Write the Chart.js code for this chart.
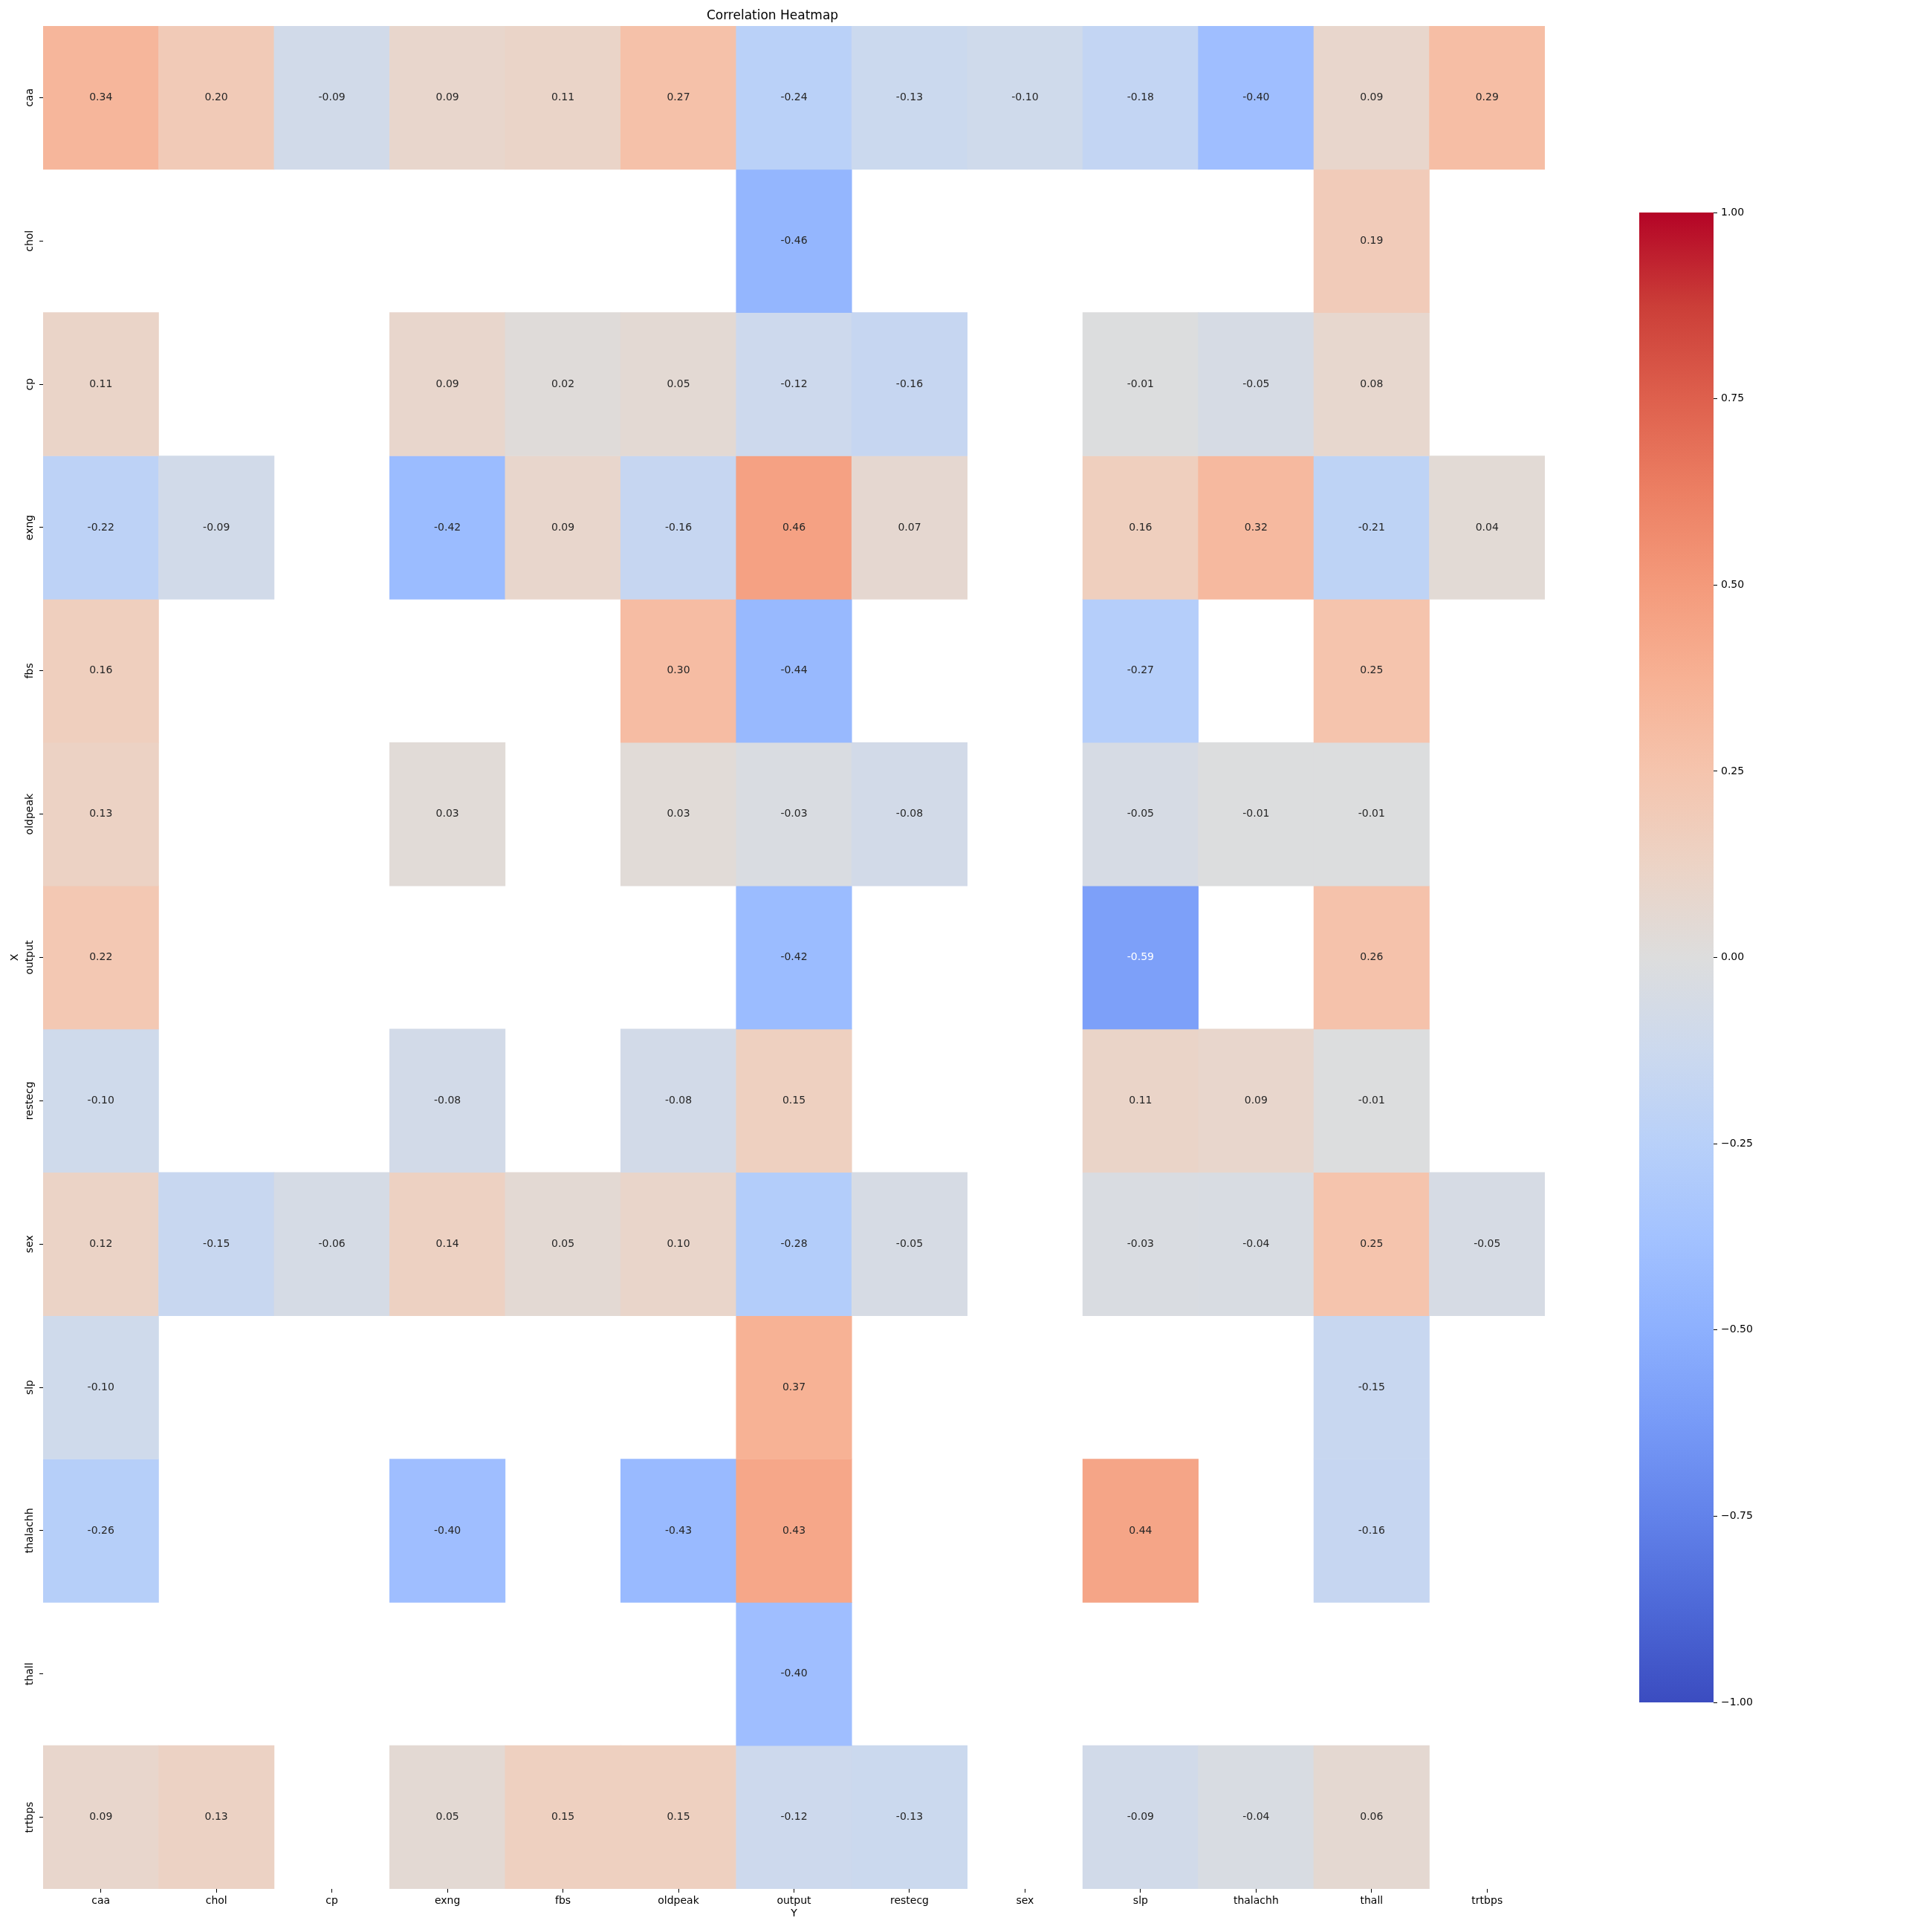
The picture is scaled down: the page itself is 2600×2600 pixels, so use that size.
<!DOCTYPE html>
<html>
<head>
<meta charset="utf-8">
<script src="https://cdn.jsdelivr.net/npm/chart.js@4.4.1/dist/chart.umd.min.js"></script>
<style>
  body { margin: 0; background: #fff; }
  #wrap { position: relative; width: 2600px; height: 2600px; background: #fff; }
  #heat { position: absolute; left: 0; top: 0; }
  #cbar { position: absolute; left: 2150px; top: 0; }
</style>
</head>
<body>
<div id="wrap">
  <canvas id="heat" width="2136" height="2600"></canvas>
  <canvas id="cbar" width="450" height="2600"></canvas>
</div>
<script>
// rows (X) and columns (Y) of the heatmap
const rowLabels = ["caa", "chol", "cp", "exng", "fbs", "oldpeak", "output", "restecg", "sex", "slp", "thalachh", "thall", "trtbps"];
const colLabels = ["caa", "chol", "cp", "exng", "fbs", "oldpeak", "output", "restecg", "sex", "slp", "thalachh", "thall", "trtbps"];

// one array per row, in column order; null = empty cell
const caaRow      = [0.34, 0.20, -0.09, 0.09, 0.11, 0.27, -0.24, -0.13, -0.10, -0.18, -0.40, 0.09, 0.29];
const cholRow     = [null, null, null, null, null, null, -0.46, null, null, null, null, 0.19, null];
const cpRow       = [0.11, null, null, 0.09, 0.02, 0.05, -0.12, -0.16, null, -0.01, -0.05, 0.08, null];
const exngRow     = [-0.22, -0.09, null, -0.42, 0.09, -0.16, 0.46, 0.07, null, 0.16, 0.32, -0.21, 0.04];
const fbsRow      = [0.16, null, null, null, null, 0.30, -0.44, null, null, -0.27, null, 0.25, null];
const oldpeakRow  = [0.13, null, null, 0.03, null, 0.03, -0.03, -0.08, null, -0.05, -0.01, -0.01, null];
const outputRow   = [0.22, null, null, null, null, null, -0.42, null, null, -0.59, null, 0.26, null];
const restecgRow  = [-0.10, null, null, -0.08, null, -0.08, 0.15, null, null, 0.11, 0.09, -0.01, null];
const sexRow      = [0.12, -0.15, -0.06, 0.14, 0.05, 0.10, -0.28, -0.05, null, -0.03, -0.04, 0.25, -0.05];
const slpRow      = [-0.10, null, null, null, null, null, 0.37, null, null, null, null, -0.15, null];
const thalachhRow = [-0.26, null, null, -0.40, null, -0.43, 0.43, null, null, 0.44, null, -0.16, null];
const thallRow    = [null, null, null, null, null, null, -0.40, null, null, null, null, null, null];
const trtbpsRow   = [0.09, 0.13, null, 0.05, 0.15, 0.15, -0.12, -0.13, null, -0.09, -0.04, 0.06, null];

const rowValues = [caaRow, cholRow, cpRow, exngRow, fbsRow, oldpeakRow, outputRow,
  restecgRow, sexRow, slpRow, thalachhRow, thallRow, trtbpsRow];

const vmin = -1, vmax = 1;
const cbarTicks = [-1, -0.75, -0.5, -0.25, 0, 0.25, 0.5, 0.75, 1];

// coolwarm colormap stops
const coolwarmStops = [
  [59, 76, 192], [77, 104, 215], [98, 130, 234], [119, 154, 247], [141, 176, 254],
  [163, 194, 255], [184, 208, 249], [204, 217, 238], [221, 221, 221], [236, 211, 197],
  [245, 196, 173], [247, 177, 148], [244, 154, 123], [236, 127, 99], [222, 96, 77],
  [203, 62, 56], [180, 4, 38]
];

function coolwarmRGB(v) {
  let t = (v - vmin) / (vmax - vmin);
  t = Math.max(0, Math.min(1, t)) * (coolwarmStops.length - 1);
  const i = Math.min(Math.floor(t), coolwarmStops.length - 2);
  const f = t - i;
  const a = coolwarmStops[i], b = coolwarmStops[i + 1];
  return a.map((c, k) => Math.round(c + (b[k] - c) * f));
}

function coolwarm(v) {
  const c = coolwarmRGB(v);
  return `rgb(${c[0]},${c[1]},${c[2]})`;
}

// seaborn picks dark or white annotation text from the cell luminance
function textColor(v) {
  const lin = coolwarmRGB(v).map(c => {
    c = c / 255;
    return c <= 0.03928 ? c / 12.92 : Math.pow((c + 0.055) / 1.055, 2.4);
  });
  const lum = 0.2126 * lin[0] + 0.7152 * lin[1] + 0.0722 * lin[2];
  return lum > 0.408 ? "#262626" : "#ffffff";
}

Chart.defaults.font.family = '"DejaVu Sans", sans-serif';
Chart.defaults.color = "#000";

// Values written in each cell
const annotate = {
  id: "annotate",
  afterDatasetsDraw(chart) {
    const ctx = chart.ctx;
    ctx.save();
    ctx.font = '14px "DejaVu Sans", sans-serif';
    ctx.textAlign = "center";
    ctx.textBaseline = "middle";
    chart.data.datasets.forEach((ds, i) => {
      chart.getDatasetMeta(i).data.forEach((bar, j) => {
        const v = ds.values[j];
        if (v === null) return;
        const p = bar.getCenterPoint();
        ctx.fillStyle = textColor(v);
        ctx.fillText(v.toFixed(2), p.x, p.y);
      });
    });
    ctx.restore();
  }
};

// Row names drawn vertically next to the y ticks
const rowNames = {
  id: "rowNames",
  afterDraw(chart) {
    const s = chart.scales.y;
    const ctx = chart.ctx;
    ctx.save();
    ctx.font = '14px "DejaVu Sans", sans-serif';
    ctx.fillStyle = "#000";
    ctx.textAlign = "center";
    ctx.textBaseline = "middle";
    rowLabels.forEach((lab, i) => {
      const y = s.getPixelForValue(i + 0.5);
      ctx.save();
      ctx.translate(s.right - 18, y);
      ctx.rotate(-Math.PI / 2);
      ctx.fillText(lab, 0, 0);
      ctx.restore();
    });
    ctx.restore();
  }
};

const datasets = rowValues.map((vals, i) => ({
  label: rowLabels[i],
  data: vals.map(v => (v === null ? null : [i, i + 1])),
  values: vals,
  backgroundColor: vals.map(v => (v === null ? "rgba(0,0,0,0)" : coolwarm(v))),
  borderWidth: 0,
  grouped: false,
  barPercentage: 1,
  categoryPercentage: 1
}));

new Chart(document.getElementById("heat"), {
  type: "bar",
  data: { labels: colLabels, datasets: datasets },
  options: {
    responsive: false,
    animation: false,
    devicePixelRatio: 1,
    layout: { padding: { left: 0, right: 57, top: 0, bottom: 0 } },
    plugins: {
      legend: { display: false },
      tooltip: { enabled: false },
      title: {
        display: true,
        text: "Correlation Heatmap",
        color: "#000",
        font: { size: 17, weight: "normal" },
        padding: { top: 11, bottom: 3.6 }
      }
    },
    scales: {
      x: {
        type: "category",
        offset: true,
        grid: { offset: false, drawOnChartArea: false, tickLength: 5, color: "#000" },
        border: { display: false },
        ticks: { padding: 3, font: { size: 14 }, autoSkip: false, maxRotation: 0 },
        title: { display: true, text: "Y", font: { size: 14 }, padding: { top: 0, bottom: 16.6 } },
        afterFit: s => { s.height = 58; }
      },
      y: {
        type: "linear",
        min: 0,
        max: rowLabels.length,
        reverse: true,
        afterBuildTicks: s => { s.ticks = rowLabels.map((_, i) => ({ value: i + 0.5 })); },
        ticks: { display: false },
        grid: { drawOnChartArea: false, tickLength: 5, color: "#000" },
        border: { display: false },
        title: { display: true, text: "X", font: { size: 14 }, padding: { top: 11.6, bottom: 0 } },
        afterFit: s => { s.width = 58; }
      }
    }
  },
  plugins: [annotate, rowNames]
});

// Colour bar
function cbarGradient(chart) {
  const area = chart.chartArea;
  if (!area) return coolwarm(0);
  const g = chart.ctx.createLinearGradient(0, area.bottom, 0, area.top);
  coolwarmStops.forEach((c, i) => {
    g.addColorStop(i / (coolwarmStops.length - 1), `rgb(${c[0]},${c[1]},${c[2]})`);
  });
  return g;
}

new Chart(document.getElementById("cbar"), {
  type: "bar",
  data: {
    labels: [""],
    datasets: [{
      data: [[vmin, vmax]],
      backgroundColor: ctx => cbarGradient(ctx.chart),
      borderWidth: 0,
      barPercentage: 1,
      categoryPercentage: 1
    }]
  },
  options: {
    responsive: false,
    animation: false,
    devicePixelRatio: 1,
    layout: { padding: { left: 56, top: 286, bottom: 309, right: 0 } },
    plugins: { legend: { display: false }, tooltip: { enabled: false } },
    scales: {
      x: { display: false },
      y: {
        position: "right",
        min: vmin,
        max: vmax,
        afterBuildTicks: s => { s.ticks = cbarTicks.map(v => ({ value: v })); },
        ticks: {
          padding: 5,
          font: { size: 14 },
          callback: v => (v < 0 ? "\u2212" : "") + Math.abs(v).toFixed(2)
        },
        grid: { drawOnChartArea: false, tickLength: 5, color: "#000" },
        border: { display: false },
        afterFit: s => { s.width = 294; }
      }
    }
  }
});
</script>
</body>
</html>
